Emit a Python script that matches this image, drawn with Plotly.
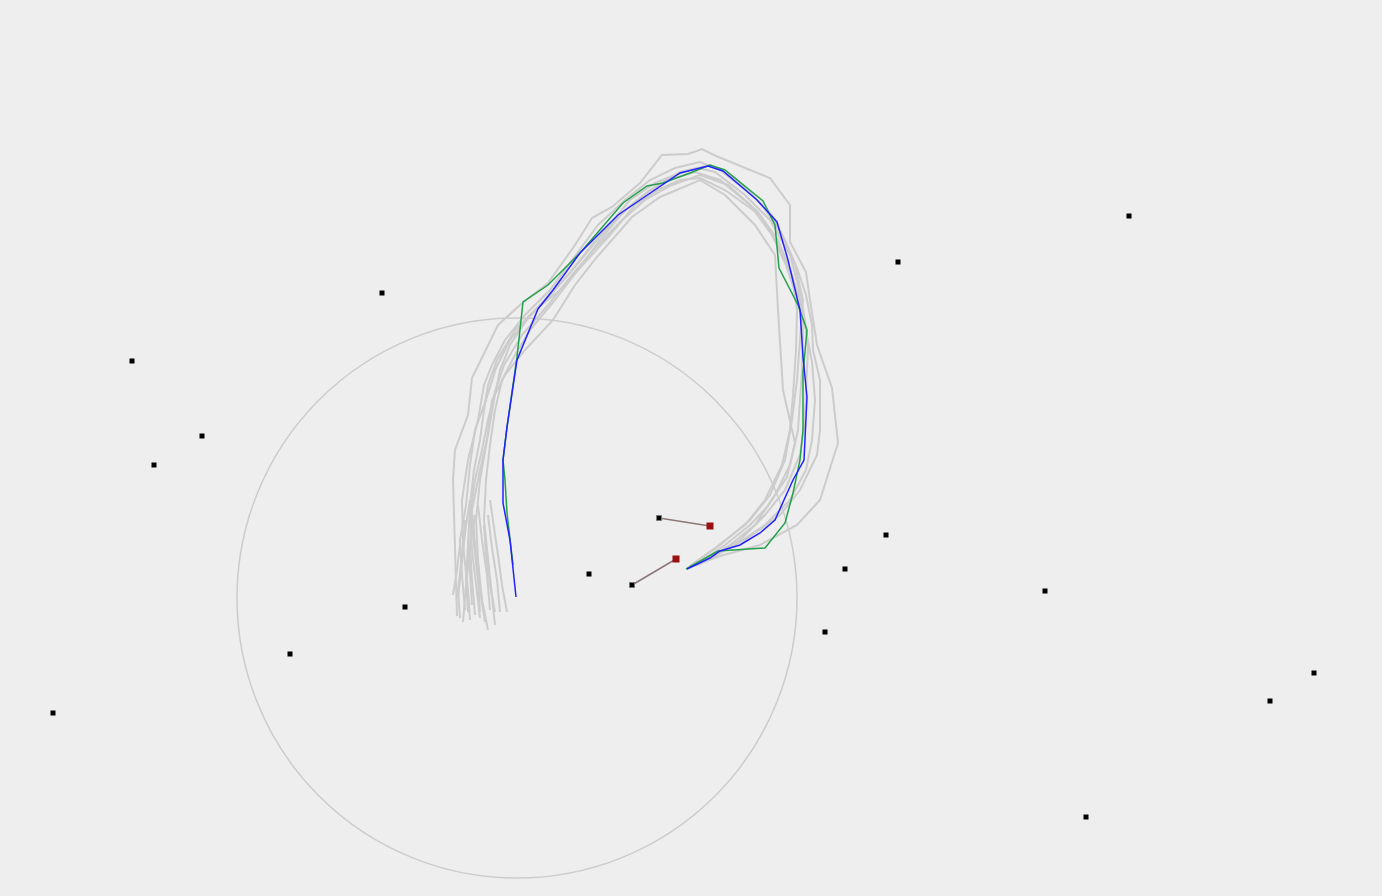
import plotly.graph_objects as go

# ---- data (pixel-like world units, y grows downward) ----
landmarks_x = [1129, 898, 382, 132, 202, 154, 886, 845, 589, 1045, 405, 825, 290, 1314, 1270, 53, 1086]
landmarks_y = [216, 262, 293, 361, 436, 465, 535, 569, 574, 591, 607, 632, 654, 673, 701, 713, 817]

obs_from_x = [659, 632]
obs_from_y = [518, 585]
obs_to_x = [710, 676]
obs_to_y = [526, 559]

blue_x = [516, 513, 510, 503, 503, 507, 517, 538, 553, 580, 618, 640, 680, 708, 723, 757, 777, 788, 800, 803, 807, 804, 793, 775, 760, 740, 720, 710, 687]
blue_y = [597, 567, 540, 503, 460, 427, 360, 309, 290, 253, 215, 200, 173, 166, 171, 200, 222, 260, 310, 357, 397, 460, 480, 520, 533, 545, 551, 558, 569]

green_x = [513, 507, 505, 503, 507, 517, 523, 548, 580, 623, 647, 663, 690, 710, 725, 763, 775, 779, 798, 807, 803, 803, 800, 793, 785, 765, 718, 686]
green_y = [565, 513, 480, 460, 427, 357, 302, 285, 253, 203, 186, 183, 173, 165, 170, 201, 225, 268, 305, 330, 373, 430, 460, 493, 523, 548, 551, 569]

particle_paths = [
    [(457,616),(456,585),(455,540),(453,480),(455,450),(468,415),(472,378),(488,345),(498,325),(520,305),(548,283),(575,245),(592,218),(612,207),(640,183),(662,155),(688,154),(702,149),(716,156),(770,178),(790,205),(790,242),(806,272),(810,300),(817,345),(832,388),(838,443),(820,500),(797,525),(760,545),(720,556),(690,567)],
    [(470,620),(468,590),(463,545),(462,500),(468,460),(478,420),(484,385),(492,365),(505,340),(525,315),(550,290),(580,250),(598,225),(625,200),(650,180),(675,168),(700,162),(720,170),(752,195),(772,215),(785,240),(797,268),(806,295),(812,325),(813,350),(820,380),(820,430),(817,455),(800,490),(780,515),(745,540),(700,562)],
    [(488,630),(482,600),(478,560),(476,520),(480,480),(487,440),(492,400),(505,375),(525,350),(553,320),(575,285),(597,257),(632,217),(660,197),(700,180),(725,195),(755,225),(775,255),(778,310),(783,390),(795,443),(787,477),(767,507),(750,525),(725,545),(695,565)],
    [(465,610),(462,575),(460,540),(466,505),(470,465),(475,430),(486,400),(496,368),(510,340),(535,310),(560,290),(585,262),(610,235),(635,205),(658,190),(680,180),(700,178),(725,190),(760,215),(778,245),(790,270),(800,300),(803,330),(802,370),(800,400),(798,430),(790,465),(775,495),(755,525),(730,545),(695,566)],
    [(475,615),(472,580),(470,545),(472,510),(480,470),(488,435),(494,400),(500,370),(510,345),(528,318),(555,290),(585,255),(605,230),(630,200),(655,183),(675,175),(698,168),(715,172),(745,195),(770,220),(790,255),(798,285),(805,320),(808,350),(806,390),(805,420),(800,455),(785,490),(765,515),(740,540),(700,563)],
    [(495,625),(492,595),(488,560),(484,520),(486,480),(490,445),(495,410),(502,380),(515,355),(530,330),(555,300),(578,270),(600,240),(625,210),(650,190),(680,172),(710,165),(735,178),(762,205),(782,235),(795,265),(803,300),(800,340),(797,380),(792,420),(785,460),(770,495),(750,520),(720,545),(690,566)],
    [(468,612),(466,580),(468,545),(470,505),(474,470),(480,440),(484,410),(488,385),(497,360),(515,330),(540,305),(568,275),(592,245),(615,220),(642,196),(668,180),(695,172),(720,180),(750,205),(772,235),(786,265),(796,295),(806,330),(812,362),(815,400),(812,440),(806,470),(790,500),(765,525),(735,545),(698,565)],
    [(480,618),(476,585),(472,550),(470,515),(475,480),(482,450),(488,420),(494,395),(504,365),(522,335),(548,305),(572,275),(595,248),(620,222),(645,200),(672,185),(700,175),(728,185),(758,212),(778,240),(792,275),(797,310),(796,350),(793,395),(790,430),(782,465),(765,500),(745,525),(715,548),(690,566)],
    [(458,598),(462,560),(466,525),(470,500)],
    [(463,622),(466,585),(470,550),(475,515)],
    [(480,612),(478,580),(474,545),(472,510)],
    [(490,610),(487,575),(482,540),(478,505)],
    [(500,612),(497,580),(492,548),(488,515)],
    [(507,612),(502,585),(498,555),(494,525),(490,500)],
    [(472,605),(470,575),(468,540)],
    [(485,622),(480,590),(476,555),(473,520)],
    [(453,595),(457,570),(460,545)],
    [(460,618),(458,590),(462,555),(465,520)],
    [(495,612),(490,585),(486,555),(484,525)],
]

sensor_center = (517, 598)
sensor_radius = 280

# ---- figure ----
fig = go.Figure()

for path in particle_paths:
    fig.add_trace(go.Scatter(
        x=[p[0] for p in path], y=[p[1] for p in path],
        mode="lines", line=dict(color="#cccccc", width=2),
        hoverinfo="skip", showlegend=False))

fig.add_trace(go.Scatter(x=green_x, y=green_y, mode="lines",
                         line=dict(color="#22a04a", width=1.5), showlegend=False))
fig.add_trace(go.Scatter(x=blue_x, y=blue_y, mode="lines",
                         line=dict(color="#2222ff", width=1.5), showlegend=False))

for fx, fy, tx, ty in zip(obs_from_x, obs_from_y, obs_to_x, obs_to_y):
    fig.add_trace(go.Scatter(x=[fx, tx], y=[fy, ty], mode="lines",
                             line=dict(color="#8a7878", width=1.5), showlegend=False))

fig.add_trace(go.Scatter(x=landmarks_x, y=landmarks_y, mode="markers",
                         marker=dict(symbol="square", size=5, color="black"),
                         showlegend=False))
fig.add_trace(go.Scatter(x=obs_from_x, y=obs_from_y, mode="markers",
                         marker=dict(symbol="square", size=5, color="black",
                                     line=dict(color="#777777", width=1)),
                         showlegend=False))
fig.add_trace(go.Scatter(x=obs_to_x, y=obs_to_y, mode="markers",
                         marker=dict(symbol="square", size=7, color="#9a1010"),
                         showlegend=False))

cx, cy = sensor_center
fig.add_shape(type="circle", xref="x", yref="y",
              x0=cx - sensor_radius, x1=cx + sensor_radius,
              y0=cy - sensor_radius, y1=cy + sensor_radius,
              line=dict(color="#cccccc", width=1.5), layer="below")

fig.update_layout(
    width=1382, height=896,
    margin=dict(l=0, r=0, t=0, b=0),
    paper_bgcolor="#eeeeee", plot_bgcolor="#eeeeee",
    xaxis=dict(range=[0, 1382], visible=False, showgrid=False, zeroline=False),
    yaxis=dict(range=[896, 0], visible=False, showgrid=False, zeroline=False),
)

fig.write_html("out.html", config={"displayModeBar": False})
